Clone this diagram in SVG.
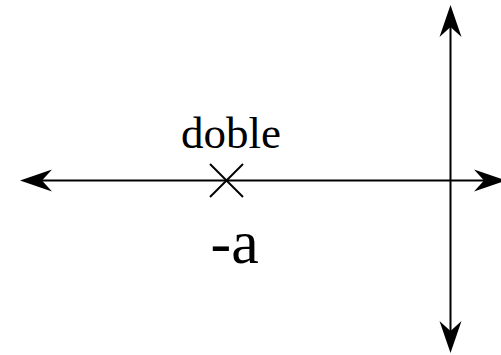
<svg xmlns="http://www.w3.org/2000/svg" width="501" height="355" viewBox="0 0 501 355">
<style>
.ax{stroke:#000;stroke-width:2;fill:none}
text{fill:#000}
</style>
<defs>
<marker id="ah" markerUnits="userSpaceOnUse" viewBox="-11 -12 34 24" markerWidth="34" markerHeight="24" refX="0" refY="0" orient="auto-start-reverse">
<path d="M22,0 L-10,-11 L0,0 L-10,11 Z" fill="#000"/>
</marker>
</defs>
<rect width="501" height="355" fill="#fff"/>
<g id="connectors">
<line class="ax" x1="42" y1="180.5" x2="484" y2="180.5" marker-start="url(#ah)" marker-end="url(#ah)"/>
<line class="ax" x1="450.5" y1="27" x2="450.5" y2="331" marker-start="url(#ah)" marker-end="url(#ah)"/>
</g>
<g id="pole">
<line class="ax" x1="210" y1="164" x2="243" y2="197"/>
<line class="ax" x1="210" y1="197" x2="243" y2="164"/>
<text x="231" y="148" font-size="45" font-family="'Times New Roman', 'Liberation Serif', 'DejaVu Serif', serif" text-anchor="middle">doble</text>
<text x="210.5" y="263" font-size="62" font-family="'Times New Roman', 'Liberation Serif', 'DejaVu Serif', serif">-a</text>
</g>
</svg>
